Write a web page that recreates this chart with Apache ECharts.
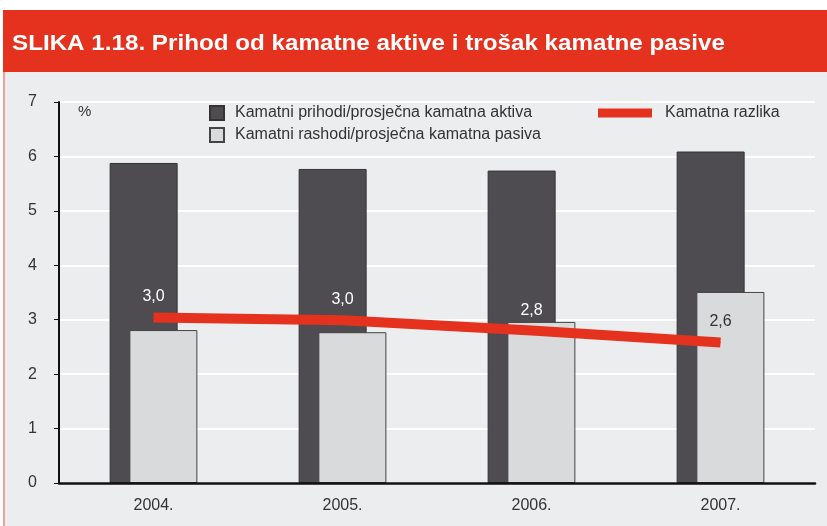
<!DOCTYPE html>
<html>
<head>
<meta charset="utf-8">
<script src="https://cdn.jsdelivr.net/npm/echarts@6/dist/echarts.min.js"></script>
<style>
  html, body { margin: 0; padding: 0; background: #fff; }
  #chart { width: 827px; height: 526px; }
</style>
</head>
<body>
<div id="chart"></div>
<script>
// podaci
const godine = ['2004.', '2005.', '2006.', '2007.'];
const prihodi = [5.88, 5.77, 5.74, 6.09];   // Kamatni prihodi/prosječna kamatna aktiva
const rashodi = [2.81, 2.77, 2.96, 3.51];   // Kamatni rashodi/prosječna kamatna pasiva
const razlika = [3.04, 2.99, 2.8, 2.58];    // Kamatna razlika
const yTicks = [0, 1, 2, 3, 4, 5, 6, 7];

const crvena = '#E5321F';
const font = 'Liberation Sans, Arial, sans-serif';

const chart = echarts.init(document.getElementById('chart'));

chart.setOption({
  animation: false,
  textStyle: { fontFamily: font },
  graphic: [
    // pozadina grafa
    { type: 'rect', shape: { x: 3, y: 72, width: 824, height: 454 },
      style: { fill: '#ECEDEF' }, z: -10 },
    { type: 'rect', shape: { x: 3, y: 72, width: 2, height: 454 },
      style: { fill: '#F2A19A' }, z: -9 },
    // crveni naslov
    { type: 'rect', shape: { x: 3, y: 10, width: 824, height: 62 },
      style: { fill: crvena }, z: -9 },
    { type: 'text', x: 12, y: 33, scaleX: 1.1,
      style: {
        text: 'SLIKA 1.18. Prihod od kamatne aktive i trošak kamatne pasive',
        fill: '#fff', font: 'bold 22px ' + font
      } },
    { type: 'text', left: 78, top: 104,
      style: { text: '%', fill: '#333', font: '15px ' + font } }
  ],
  legend: [
    {
      orient: 'vertical',
      left: 209,
      top: 105,
      padding: 0,
      itemWidth: 14,
      itemHeight: 14,
      itemGap: 6,
      icon: 'rect',
      textStyle: { color: '#333', fontSize: 16, padding: [0, 0, 0, 6] },
      data: ['Kamatni prihodi/prosječna kamatna aktiva', 'Kamatni rashodi/prosječna kamatna pasiva']
    },
    {
      left: 598,
      top: 105,
      padding: 0,
      itemWidth: 54,
      itemHeight: 9,
      textStyle: { color: '#333', fontSize: 16, padding: [0, 0, 0, 8] },
      data: [{ name: 'Kamatna razlika', icon: 'rect' }]
    }
  ],
  grid: { left: 59, right: 12, top: 102, bottom: 43 },
  xAxis: {
    type: 'category',
    data: godine,
    axisLine: { lineStyle: { color: '#111', width: 2.5 } },
    axisTick: { length: 7, lineStyle: { color: '#111', width: 1 } },
    axisLabel: { color: '#333', fontSize: 16, margin: 15 },
    z: 10
  },
  yAxis: {
    type: 'value',
    min: 0,
    max: 7,
    interval: 1,
    axisLine: { show: true, lineStyle: { color: '#111', width: 2 } },
    axisTick: { show: true, length: 5, lineStyle: { color: '#111' } },
    axisLabel: {
      color: '#333', fontSize: 16, margin: 22,
      formatter: v => yTicks.includes(v) ? String(v) : ''
    },
    splitLine: { lineStyle: { color: '#fff', width: 2 } }
  },
  series: [
    {
      name: 'Kamatni prihodi/prosječna kamatna aktiva',
      type: 'bar',
      data: prihodi,
      barWidth: 68,
      barGap: '-71%',
      itemStyle: { color: '#4F4C51', borderColor: '#333', borderWidth: 1 }
    },
    {
      name: 'Kamatni rashodi/prosječna kamatna pasiva',
      type: 'bar',
      data: rashodi,
      barWidth: 68,
      itemStyle: { color: '#D9DADC', borderColor: '#444', borderWidth: 1 }
    },
    {
      name: 'Kamatna razlika',
      type: 'line',
      data: razlika.map((v, i) => ({
        value: v,
        label: { color: i === 3 ? '#333' : '#fff' }
      })),
      symbol: 'circle',
      symbolSize: 1,
      lineStyle: { color: crvena, width: 10 },
      itemStyle: { color: crvena },
      label: {
        show: true,
        position: 'top',
        distance: 12,
        fontSize: 16,
        formatter: p => p.value.toFixed(1).replace('.', ',')
      },
      z: 5
    }
  ]
});
</script>
</body>
</html>
